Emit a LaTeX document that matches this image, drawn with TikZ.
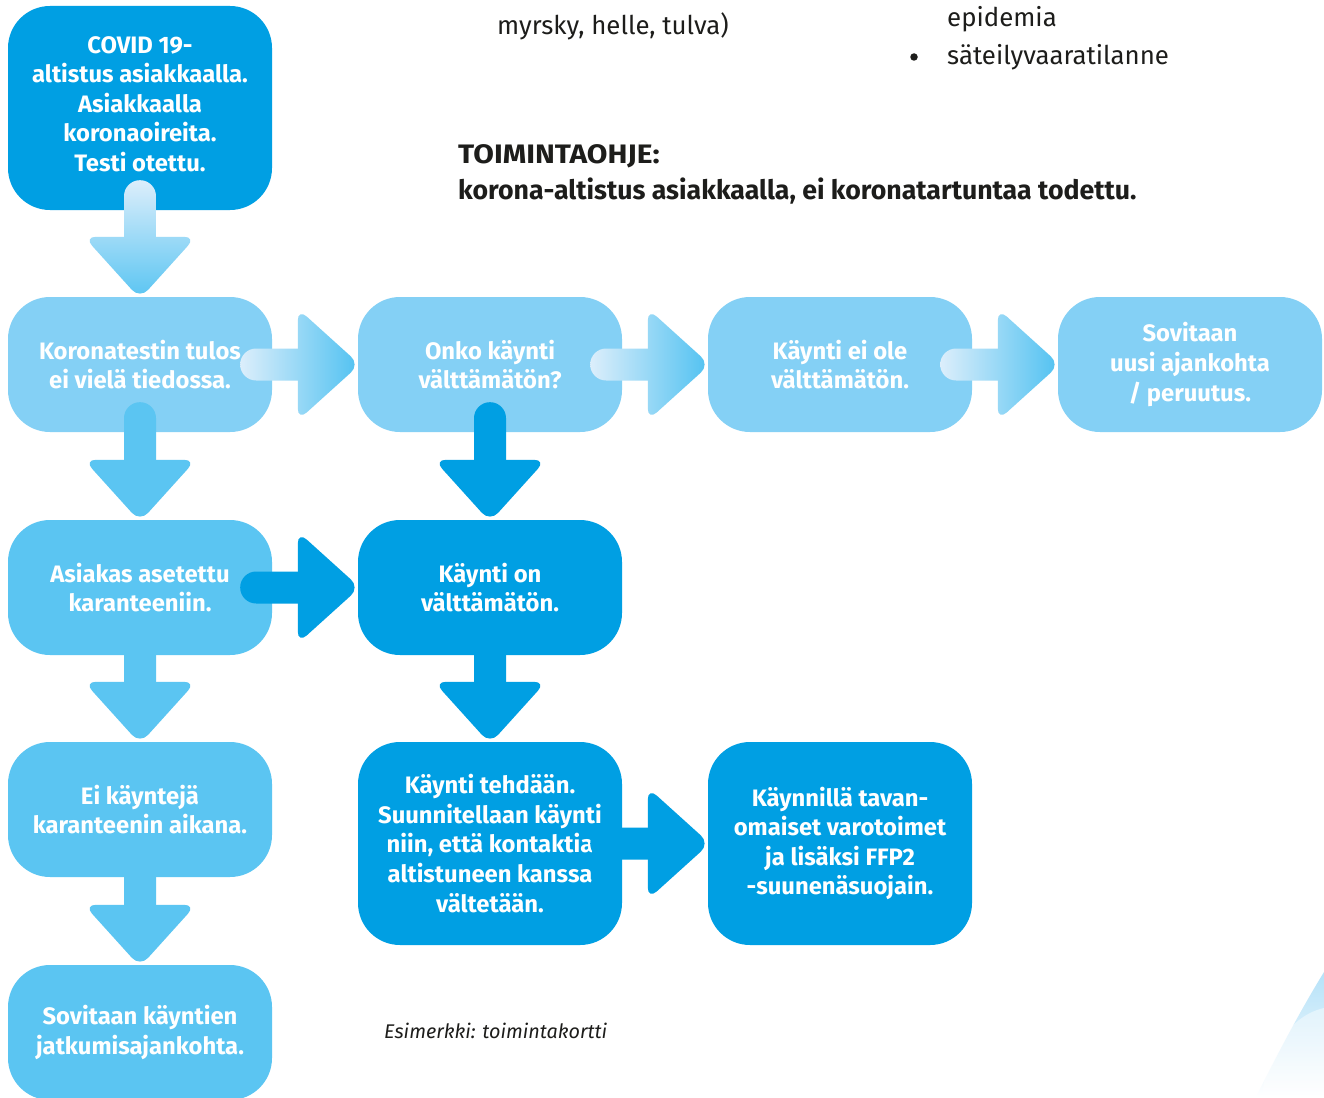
\documentclass[tikz,border=0pt]{standalone}
\usepackage{fontspec}
\setmainfont{Fira Sans}
\usetikzlibrary{calc}
\definecolor{dblue}{HTML}{009FE3}
\definecolor{lblue}{HTML}{84D0F5}
\definecolor{mblue}{HTML}{5BC5F2}
\definecolor{gstart}{HTML}{DCEEFB}
\definecolor{gend}{HTML}{52C2F1}
\definecolor{txt}{HTML}{1D1D1B}
\tikzset{
  box/.style={rounded corners=42pt, minimum width=264pt, minimum height=135pt,
    inner sep=0pt, text=white, align=center,
    font=\fontsize{23.8}{29.6}\selectfont\bfseries},
  darkbox/.style={box, fill=dblue},
  lightbox/.style={box, fill=lblue},
  midbox/.style={box, fill=mblue},
  plaintxt/.style={anchor=base west, inner sep=0pt, text=txt,
    font=\fontsize{25.8}{30}\selectfont},
  headtxt/.style={anchor=base west, inner sep=0pt, text=txt,
    font=\fontsize{26.7}{30}\selectfont\bfseries},
  vgrad/.style={top color=gstart, bottom color=mblue},
  hgrad/.style={left color=gstart, right color=gend},
  solidmid/.style={fill=mblue},
  soliddark/.style={fill=dblue},
}
\newcommand\VArr[3]{%
  \path let \p1=(#2.south), \p2=(#3.north) in
    (\x1-60pt,\y1+30pt) coordinate (ga)
    (\x1+60pt,\y2) coordinate (gb)
    (\x1-16pt,\y2+31pt) coordinate (s1)
    (\x1+16pt,\y1+30pt) coordinate (s2)
    (\x1-56pt,\y2+60pt) coordinate (p1)
    (\x1+56pt,\y2+60pt) coordinate (p2)
    (\x1,\y2-2pt) coordinate (p3);
  \begin{scope}
    \clip[rounded corners=15.9pt] (s1) rectangle (s2);
    \path[#1] (ga) rectangle (gb);
  \end{scope}
  \begin{scope}
    \clip[rounded corners=12pt] (p1) -- (p2) -- (p3) -- cycle;
    \path[#1] (ga) rectangle (gb);
  \end{scope}}
\newcommand\HArr[3]{%
  \path let \p1=(#2.east), \p2=(#3.west) in
    (\x1-32pt,\y1+60pt) coordinate (ga)
    (\x2,\y1-60pt) coordinate (gb)
    (\x1-32pt,\y1-16pt) coordinate (s1)
    (\x2-30pt,\y1+16pt) coordinate (s2)
    (\x2-60pt,\y1+56pt) coordinate (p1)
    (\x2+2pt,\y1) coordinate (p3)
    (\x2-60pt,\y1-56pt) coordinate (p2);
  \begin{scope}
    \clip[rounded corners=15.9pt] (s1) rectangle (s2);
    \path[#1] (ga) rectangle (gb);
  \end{scope}
  \begin{scope}
    \clip[rounded corners=12pt] (p1) -- (p3) -- (p2) -- cycle;
    \path[#1] (ga) rectangle (gb);
  \end{scope}}
\begin{document}
\begin{tikzpicture}[x=1pt,y=-1pt]
\useasboundingbox (0,0) rectangle (1324,1097);
\fill[white] (0,0) rectangle (1324,1097);
% corner decoration
\shade[top color=gstart!70!mblue, bottom color=white]
  (1256,1097) .. controls (1282,1045) and (1302,1008) .. (1324,972) -- (1324,1097) -- cycle;
\fill[white, opacity=0.45]
  (1262,1097) .. controls (1266,1050) and (1292,1015) .. (1324,1008) -- (1324,1097) -- cycle;
% top texts
\node[plaintxt] (t1) at (497,35) {myrsky, helle, tulva)};
\node[plaintxt] (t2) at (947,27) {epidemia};
\node[circle, fill=txt, inner sep=0pt, minimum size=7.5pt] (t3b) at (914,57) {};
\node[plaintxt] (t3) at (947,65) {säteilyvaaratilanne};
\node[headtxt] (h1) at (458,163) {\scalebox{1.12}[1]{TOIMINTAOHJE:}};
\node[headtxt] (h2) at (458,199) {korona-altistus asiakkaalla, ei koronatartuntaa todettu.};
% boxes
\node[darkbox, minimum height=204pt] (b1) at (140,108) {};
\node[box, anchor=center] (b1t) at (140,104)
  {COVID 19-\\altistus asiakkaalla.\\Asiakkaalla\\koronaoireita.\\Testi otettu.};
\node[lightbox] (b2) at (140,364.5) {Koronatestin tulos\\ei vielä tiedossa.};
\node[lightbox] (b3) at (490,364.5) {Onko käynti\\välttämätön?};
\node[lightbox] (b4) at (840,364.5) {Käynti ei ole\\välttämätön.};
\node[lightbox] (b5) at (1190,364.5) {Sovitaan\\uusi ajankohta\\/ peruutus.};
\node[midbox] (b6) at (140,587.5) {Asiakas asetettu\\karanteeniin.};
\node[darkbox] (b7) at (490,587.5) {Käynti on\\välttämätön.};
\node[midbox] (b8) at (140,809.5) {Ei käyntejä\\karanteenin aikana.};
\node[darkbox, minimum height=203pt] (b9) at (490,843.5)
  {Käynti tehdään.\\Suunnitellaan käynti\\niin, että kontaktia\\altistuneen kanssa\\vältetään.};
\node[darkbox, minimum height=203pt] (b10) at (840,843.5)
  {Käynnillä tavan-\\omaiset varotoimet\\ja lisäksi FFP2\\-suunenäsuojain.};
\node[midbox] (b11) at (140,1032.5) {Sovitaan käyntien\\jatkumisajankohta.};
% arrows
\VArr{vgrad}{b1}{b2}
\VArr{solidmid}{b2}{b6}
\VArr{solidmid}{b6}{b8}
\VArr{solidmid}{b8}{b11}
\VArr{soliddark}{b3}{b7}
\VArr{soliddark}{b7}{b9}
\HArr{hgrad}{b2}{b3}
\HArr{hgrad}{b3}{b4}
\HArr{hgrad}{b4}{b5}
\HArr{soliddark}{b6}{b7}
\HArr{soliddark}{b9}{b10}
% caption
\node[anchor=base west, inner sep=0pt, text=txt,
  font=\fontsize{19.8}{23}\selectfont\itshape] (cap) at (384,1038) {Esimerkki: toimintakortti};
\end{tikzpicture}
\end{document}
